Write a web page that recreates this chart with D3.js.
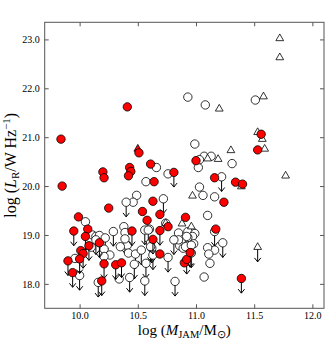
<!DOCTYPE html>
<html>
<head>
<meta charset="utf-8">
<script src="https://cdn.jsdelivr.net/npm/d3@7"></script>
<style>
  body { margin: 0; background: #fff; }
  svg { display: block; }
  text { font-family: "Liberation Serif", "Times New Roman", serif; }
</style>
</head>
<body>
<svg id="chart" width="329" height="341"></svg>
<script>
// values: [log M_JAM, log L_R]
const redDet = [[9.84,20.96],[9.85,20.00],[10.41,21.62],[10.51,20.68],[10.20,20.29],[10.21,20.17],
  [10.43,20.38],[10.44,20.30],[10.42,20.21],[10.61,20.45],[10.64,20.09],[11.00,20.52],[11.16,20.17],
  [11.34,20.08],[11.40,20.04],[11.24,19.67],[11.56,21.06],[11.53,20.74],[10.25,19.55],[10.63,19.69],
  [10.54,19.48],[10.58,19.30],[10.69,19.42],[9.99,19.37],[10.91,19.36],[10.76,19.17],[11.17,19.12],
  [10.07,19.12],[10.01,18.68],[10.69,18.61],[10.90,18.43]];
const redLim = [[10.81,20.28],[9.95,19.08],[10.05,18.97],[10.45,19.08],[10.69,19.09],[10.17,18.84],
  [10.08,18.78],[10.03,18.62],[10.00,18.51],[9.90,18.47],[9.94,18.23],[10.21,18.41],[10.31,18.39],
  [10.36,18.43],[10.19,18.06],[10.63,18.91],[10.92,18.50],[10.95,18.64],[11.39,18.11]];
const openDet = [[10.93,21.82],[11.08,21.66],[11.51,21.76],[10.99,20.86],[11.07,20.61],[11.13,20.61],
  [11.02,20.38],[11.03,20.54],[11.31,20.46],[11.03,19.98],[11.06,19.81],[11.16,19.78],[11.10,19.40],
  [10.66,20.38],[10.76,20.25],[10.57,20.09],[10.49,19.81],[10.46,19.67],[10.05,19.27],[10.11,19.00],
  [10.14,18.97],[10.17,18.99],[10.38,19.17],[10.39,19.05],[10.60,19.12],[10.74,19.24],[10.85,19.04],
  [10.93,19.07],[10.99,19.03],[10.97,18.97],[11.16,18.69],[11.10,18.74],[11.11,18.61],[11.12,18.42],
  [11.07,18.14],[10.21,18.71],[10.26,18.59],[10.21,18.56],[10.41,18.79],[10.42,18.63],[10.35,18.76],
  [10.34,18.10],[10.86,18.78],[10.89,18.73],[10.93,18.80],[10.98,18.82],[10.91,18.76],[10.96,18.79],
  [10.93,18.95],[10.10,18.75],[9.96,18.52],[10.61,18.84],[10.85,18.90]];
const openLim = [[11.22,20.19],[10.40,19.67],[10.72,19.74],[10.22,18.94],[10.29,19.07],[10.56,19.10],
  [10.59,19.10],[10.92,18.97],[11.16,19.07],[11.23,18.84],[10.47,18.40],[10.48,18.61],[10.43,18.13],
  [10.57,18.42],[10.56,18.06],[10.62,18.73],[10.63,18.59],[10.76,18.54],[10.81,18.90],[10.82,18.05],
  [10.16,18.03],[10.00,18.17],[10.14,18.90],[10.53,18.69],[10.96,18.63],[10.39,18.92],[10.61,18.76]];
const triDet = [[11.72,23.02],[11.72,22.63],[11.58,21.83],[11.20,21.58],[11.53,21.10],[11.57,20.96],
  [11.59,20.76],[11.77,20.21],[11.30,20.73],[11.10,20.56],[11.19,20.55],[11.39,19.99],[10.97,19.80],
  [10.88,19.23],[10.96,19.17],[10.74,19.24]];
const triLim = [[11.53,18.75]];
const redTri = [[10.50,20.76]];

const xTicks = [10.0, 10.5, 11.0, 11.5, 12.0];
const yTicks = [18, 19, 20, 21, 22, 23];
const limLen = 0.3; // arrow length in dex

const svg = d3.select("#chart");
const m = {left: 44.7, right: 324, top: 22.3, bottom: 308.3};

const x = d3.scaleLinear().domain([9.7, 12.1]).range([m.left, m.right]);
const y = d3.scaleLinear().domain([17.5, 23.35]).range([m.bottom, m.top]);

svg.append("rect").attr("width", 329).attr("height", 341).attr("fill", "#fff");

// axes, ticks pointing inward on all four sides
const fmt = d3.format(".1f");
function styleAxis(g) {
  g.select(".domain").remove();
  g.selectAll(".tick line").attr("stroke", "#555");
  g.selectAll("text").attr("font-size", 10).attr("fill", "#000")
    .style("font-family", '"Liberation Serif", serif');
}
svg.append("g").attr("transform", `translate(0,${m.bottom})`)
  .call(d3.axisBottom(x).tickValues(xTicks).tickFormat(fmt).tickSize(-4).tickPadding(3.5))
  .call(styleAxis);
svg.append("g").attr("transform", `translate(0,${m.top})`)
  .call(d3.axisTop(x).tickValues(xTicks).tickFormat("").tickSize(-4))
  .call(styleAxis);
svg.append("g").attr("transform", `translate(${m.left},0)`)
  .call(d3.axisLeft(y).tickValues(yTicks).tickFormat(fmt).tickSize(-4).tickPadding(5))
  .call(styleAxis);
svg.append("g").attr("transform", `translate(${m.right},0)`)
  .call(d3.axisRight(y).tickValues(yTicks).tickFormat("").tickSize(-4))
  .call(styleAxis);

svg.append("rect")
  .attr("x", m.left).attr("y", m.top)
  .attr("width", m.right - m.left).attr("height", m.bottom - m.top)
  .attr("fill", "none").attr("stroke", "#555").attr("stroke-width", 1);

const plot = svg.append("g");

function arrows(data) {
  plot.append("g").selectAll("path")
    .data(data)
    .enter().append("path")
    .attr("d", d => {
      const px = x(d[0]), py = y(d[1]), ty = y(d[1] - limLen);
      return `M${px},${py}L${px},${ty}M${px - 3.2},${ty - 4}L${px},${ty}L${px + 3.2},${ty - 4}`;
    })
    .attr("fill", "none").attr("stroke", "#000").attr("stroke-width", 1);
}
function circles(data, fill) {
  plot.append("g").selectAll("circle")
    .data(data)
    .enter().append("circle")
    .attr("cx", d => x(d[0])).attr("cy", d => y(d[1])).attr("r", 4.2)
    .attr("fill", fill).attr("stroke", "#000").attr("stroke-width", 0.8);
}
const tri = d3.symbol().type(d3.symbolTriangle).size(26);
function triangles(data, fill) {
  plot.append("g").selectAll("path")
    .data(data)
    .enter().append("path")
    .attr("transform", d => `translate(${x(d[0])},${y(d[1])})`)
    .attr("d", tri)
    .attr("fill", fill).attr("stroke", "#000").attr("stroke-width", 0.8);
}

arrows(openLim);
circles(openDet.concat(openLim), "#fff");
arrows(triLim);
triangles(triDet.concat(triLim), "#fff");
arrows(redLim);
triangles(redTri, "#ff0000");
circles(redDet.concat(redLim), "#ff0000");

// axis labels
const xl = svg.append("text")
  .attr("x", (m.left + m.right) / 2).attr("y", 334.5)
  .attr("text-anchor", "middle").attr("font-size", 15);
xl.append("tspan").text("log (");
xl.append("tspan").attr("font-style", "italic").text("M");
xl.append("tspan").attr("font-size", 10.5).attr("dy", 3).text("JAM");
xl.append("tspan").attr("dy", -3).text("/M");
xl.append("tspan").attr("font-size", 10.5).attr("dy", 3).text("\u2299");
xl.append("tspan").attr("dy", -3).text(")");

const yl = svg.append("text")
  .attr("transform", `translate(16,${(m.top + m.bottom) / 2}) rotate(-90)`)
  .attr("text-anchor", "middle").attr("font-size", 16);
yl.append("tspan").text("log (");
yl.append("tspan").attr("font-style", "italic").text("L");
yl.append("tspan").attr("font-size", 11).attr("dy", 3).text("R");
yl.append("tspan").attr("dy", -3).text("/W Hz");
yl.append("tspan").attr("font-size", 11).attr("dy", -6).text("\u22121");
yl.append("tspan").attr("dy", 6).text(")");
</script>
</body>
</html>
